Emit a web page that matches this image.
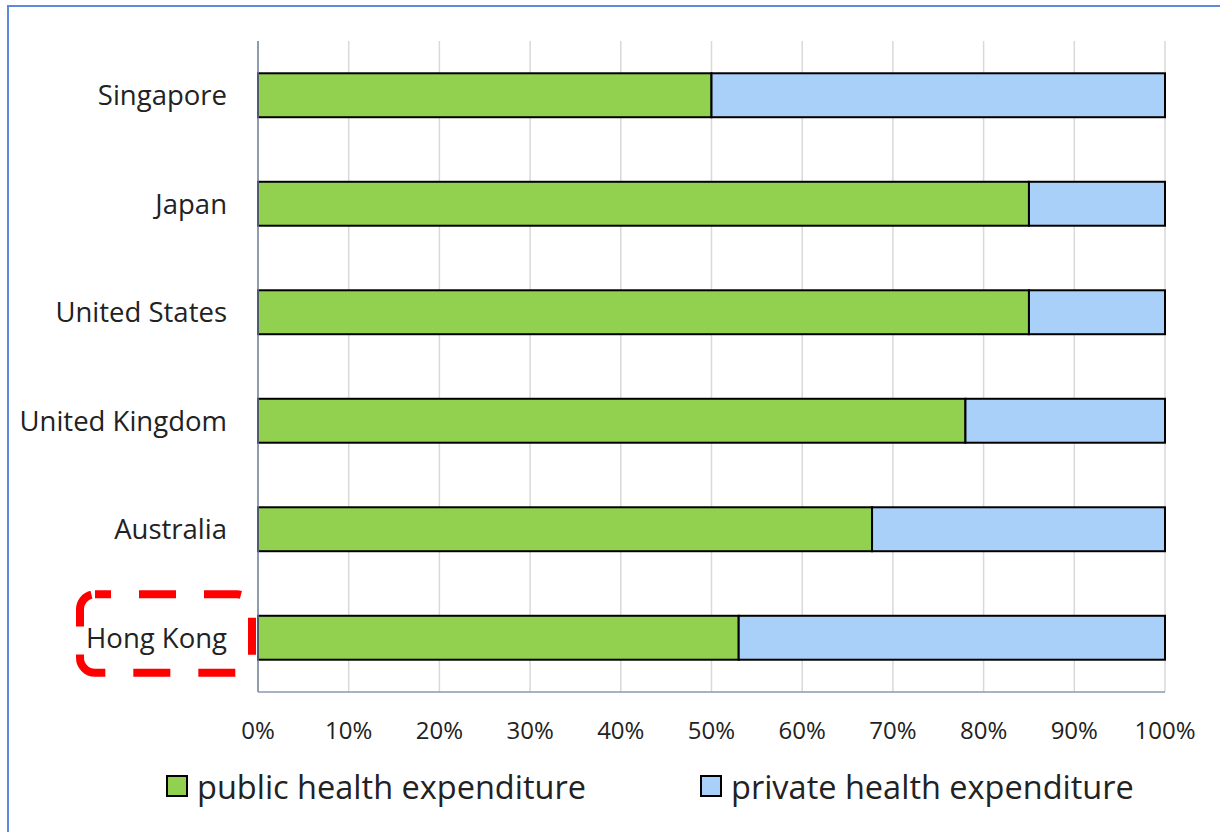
<!DOCTYPE html>
<html>
<head>
<meta charset="utf-8">
<script src="https://cdn.jsdelivr.net/npm/d3@7"></script>
<style>
  html, body { margin: 0; padding: 0; background: #fff; }
  svg { display: block; font-family: "Open Sans", "Noto Sans", sans-serif; }
</style>
</head>
<body>
<div id="chart"></div>
<script>
const countries = ["Singapore", "Japan", "United States", "United Kingdom", "Australia", "Hong Kong"];
const publicShare = [50, 85, 85, 78, 67.7, 53];
const privateShare = [50, 15, 15, 22, 32.3, 47];
const seriesNames = ["public health expenditure", "private health expenditure"];
const seriesColors = ["#92d050", "#a9d0f9"];
const tickValues = [0, 10, 20, 30, 40, 50, 60, 70, 80, 90, 100];
const highlighted = "Hong Kong";

const width = 1220;
const height = 832;
const margin = { top: 41, right: 55, bottom: 140, left: 258 };

const svg = d3
  .select("#chart")
  .append("svg")
  .attr("width", width)
  .attr("height", height);

// outer frame (only left + top visible in the picture)
svg
  .append("rect")
  .attr("x", 8)
  .attr("y", 6)
  .attr("width", width + 20)
  .attr("height", height + 20)
  .attr("fill", "none")
  .attr("stroke", "#5b8bd9")
  .attr("stroke-width", 2);

const x = d3
  .scaleLinear()
  .domain([0, 100])
  .range([margin.left, width - margin.right]);

const y = d3
  .scaleBand()
  .domain(countries)
  .range([margin.top, height - margin.bottom])
  .paddingInner(0.595)
  .paddingOuter(0.2975);

// gridlines
svg
  .append("g")
  .selectAll("line")
  .data(tickValues.filter((d) => d > 0))
  .join("line")
  .attr("x1", (d) => x(d))
  .attr("x2", (d) => x(d))
  .attr("y1", y.range()[0])
  .attr("y2", y.range()[1])
  .attr("stroke", "#d9d9d9")
  .attr("stroke-width", 1.5);

// stacked bars
const rows = countries.map((c, i) => ({
  country: c,
  parts: [
    { start: 0, end: publicShare[i], s: 0 },
    { start: publicShare[i], end: publicShare[i] + privateShare[i], s: 1 },
  ],
}));

svg
  .append("g")
  .selectAll("g")
  .data(rows)
  .join("g")
  .selectAll("rect")
  .data((d) => d.parts.map((p) => ({ ...p, country: d.country })))
  .join("rect")
  .attr("x", (d) => x(d.start))
  .attr("width", (d) => x(d.end) - x(d.start))
  .attr("y", (d) => y(d.country))
  .attr("height", y.bandwidth())
  .attr("fill", (d) => seriesColors[d.s])
  .attr("stroke", "#000")
  .attr("stroke-width", 2);

// axis lines
svg
  .append("line")
  .attr("x1", x(0))
  .attr("x2", x(0))
  .attr("y1", y.range()[0])
  .attr("y2", y.range()[1])
  .attr("stroke", "#6a7b94")
  .attr("stroke-width", 1.5);

svg
  .append("line")
  .attr("x1", x(0))
  .attr("x2", x(100))
  .attr("y1", y.range()[1])
  .attr("y2", y.range()[1])
  .attr("stroke", "#8a99ae")
  .attr("stroke-width", 1.5);

// tick labels
svg
  .append("g")
  .selectAll("text")
  .data(tickValues)
  .join("text")
  .attr("x", (d) => x(d))
  .attr("y", 739)
  .attr("text-anchor", "middle")
  .attr("font-size", 24)
  .attr("fill", "#222")
  .text((d) => d + "%");

// category labels
svg
  .append("g")
  .selectAll("text")
  .data(countries)
  .join("text")
  .attr("x", 227)
  .attr("y", (d) => y(d) + y.bandwidth() / 2)
  .attr("dy", "0.36em")
  .attr("text-anchor", "end")
  .attr("font-size", 27.5)
  .attr("fill", "#222")
  .text((d) => d);

// red dashed highlight box round Hong Kong
const hy = y(highlighted) + y.bandwidth() / 2;
svg
  .append("rect")
  .attr("x", 80)
  .attr("y", hy - 43.5)
  .attr("width", 172)
  .attr("height", 78.5)
  .attr("rx", 15)
  .attr("fill", "none")
  .attr("stroke", "#ff0000")
  .attr("stroke-width", 8)
  .attr("stroke-dasharray", "37 28")
  .attr("stroke-dashoffset", 21);

// legend
const legendX = [167, 701];
const legend = svg
  .append("g")
  .selectAll("g")
  .data(seriesNames)
  .join("g")
  .attr("transform", (d, i) => `translate(${legendX[i]},776)`);

legend
  .append("rect")
  .attr("width", 20)
  .attr("height", 20)
  .attr("fill", (d, i) => seriesColors[i])
  .attr("stroke", "#000")
  .attr("stroke-width", 2);

legend
  .append("text")
  .attr("x", 30)
  .attr("y", 11)
  .attr("dy", "0.36em")
  .attr("font-size", 32.5)
  .attr("fill", "#222")
  .text((d) => d);
</script>
</body>
</html>
